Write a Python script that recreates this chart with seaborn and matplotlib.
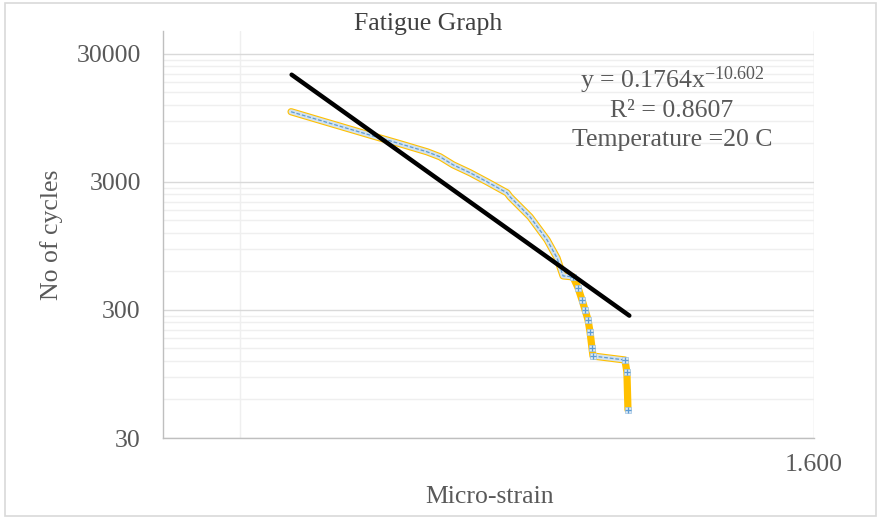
import numpy as np
import pandas as pd
import matplotlib
matplotlib.use("Agg")
import matplotlib.pyplot as plt
from matplotlib.ticker import FixedLocator, FixedFormatter, NullFormatter
from matplotlib.patches import Rectangle
import seaborn as sns

# strain values and cycles
strain = [0.2517, 0.2888, 0.3328, 0.3700, 0.4071, 0.4262, 0.4464, 0.4741,
          0.5034, 0.5403, 0.5460, 0.5861, 0.6224, 0.6448, 0.6587, 0.6824,
          0.6946, 0.7045, 0.7120, 0.7195, 0.7247, 0.7297, 0.7323, 0.8198,
          0.8257, 0.8287]
cycles = [10570, 8593, 6949, 5946, 5146, 4705, 4073, 3529,
          3000, 2460, 2290, 1598, 1057, 764, 553, 543,
          446, 359, 300, 251, 202, 151, 131, 122,
          98, 50]

# power trendline ends
trend_x = [0.2522, 0.8327]
trend_y = [20565, 270.8]

y_ticks = [30, 300, 3000, 30000]
y_labels = ["30", "300", "3000", "30000"]
x_ticks = [1.6]
x_labels = ["1.600"]

df = pd.DataFrame({"strain": strain, "cycles": cycles})
trend = pd.DataFrame({"strain": trend_x, "cycles": trend_y})

sns.set_style("white")
plt.rcParams["font.family"] = ["Liberation Serif", "DejaVu Serif"]
plt.rcParams["mathtext.default"] = "regular"
text_col = "#595959"

fig, ax = plt.subplots(figsize=(8.81, 5.19), dpi=100)
fig.subplots_adjust(left=0.185, right=0.924, top=0.940, bottom=0.156)

ax.set_xscale("log")
ax.set_yscale("log")
ax.set_xlim(0.16, 1.6005)
ax.set_ylim(30, 45000)

# yellow series line
sns.lineplot(data=df, x="strain", y="cycles", ax=ax, sort=False, estimator=None,
             color="#FFC000", lw=5.2, zorder=3)
# dense marker band where points sit close together
for a, b in [(0, 16), (22, 24)]:
    seg = df.iloc[a:b]
    ax.plot(seg["strain"], seg["cycles"], color="#d3e2ee", lw=3.6, zorder=4,
            solid_capstyle="round")
    ax.plot(seg["strain"], seg["cycles"], color="#5B9BD5", lw=0.9, zorder=5,
            dashes=(3, 1.5))
sns.scatterplot(data=df.iloc[15:], x="strain", y="cycles", ax=ax, marker="s", s=24,
                color="#dce9f5", edgecolor="#9DC3E6", linewidth=0.5, zorder=6)
sns.scatterplot(data=df.iloc[15:], x="strain", y="cycles", ax=ax, marker="+", s=18,
                color="#5B9BD5", linewidth=0.9, zorder=7)

# trendline
sns.lineplot(data=trend, x="strain", y="cycles", ax=ax, color="black", lw=3.2,
             zorder=8, sort=False, estimator=None)

ax.yaxis.set_major_locator(FixedLocator(y_ticks))
ax.yaxis.set_major_formatter(FixedFormatter(y_labels))
ax.yaxis.set_minor_locator(FixedLocator([b * k for b in (30, 300, 3000) for k in range(2, 10)]))
ax.yaxis.set_minor_formatter(NullFormatter())
ax.xaxis.set_major_locator(FixedLocator(x_ticks))
ax.xaxis.set_major_formatter(FixedFormatter(x_labels))
ax.xaxis.set_minor_locator(FixedLocator([0.21]))
ax.xaxis.set_minor_formatter(NullFormatter())

ax.grid(which="major", color="#d9d9d9", lw=1.0)
ax.grid(which="minor", color="#efefef", lw=1.0)
ax.set_axisbelow(True)

for s in ["top", "right"]:
    ax.spines[s].set_visible(False)
for s in ["left", "bottom"]:
    ax.spines[s].set_color("#bfbfbf")
    ax.spines[s].set_linewidth(1.0)

ax.tick_params(axis="y", which="major", length=6, width=1, color="#bfbfbf",
               labelsize=18.5, labelcolor=text_col, pad=10)
ax.tick_params(axis="x", which="major", length=5.5, width=1, color="#bfbfbf",
               labelsize=18.5, labelcolor=text_col, pad=6)
ax.tick_params(which="minor", length=0)

ax.set_xlabel("Micro-strain", fontsize=18.5, color=text_col)
ax.xaxis.label.set_va("center")
ax.xaxis.set_label_coords(0.502, -0.145)
ax.set_ylabel("No of cycles", fontsize=18.5, color=text_col)
ax.yaxis.label.set_va("center")
ax.yaxis.set_label_coords(-0.1705, 0.5)

fig.text(0.486, 0.954, "Fatigue Graph", ha="center", va="center",
         fontsize=18.5, color="#404040")

ax.text(0.782, 1 - (80 - 31) / 407, "y = 0.1764x$^{-10.602}$", transform=ax.transAxes,
        ha="center", va="center", fontsize=18.5, color=text_col)
ax.text(0.782, 1 - (111 - 31) / 407, "R² = 0.8607", transform=ax.transAxes,
        ha="center", va="center", fontsize=18.5, color=text_col)
ax.text(0.782, 1 - (140 - 31) / 407, "Temperature =20 C", transform=ax.transAxes,
        ha="center", va="center", fontsize=18.5, color=text_col)

fig.patches.append(Rectangle((0.006, 0.006), 0.988, 0.988, transform=fig.transFigure,
                             fill=False, edgecolor="#d9d9d9", lw=1.2))

fig.savefig("out.png", dpi=100)
